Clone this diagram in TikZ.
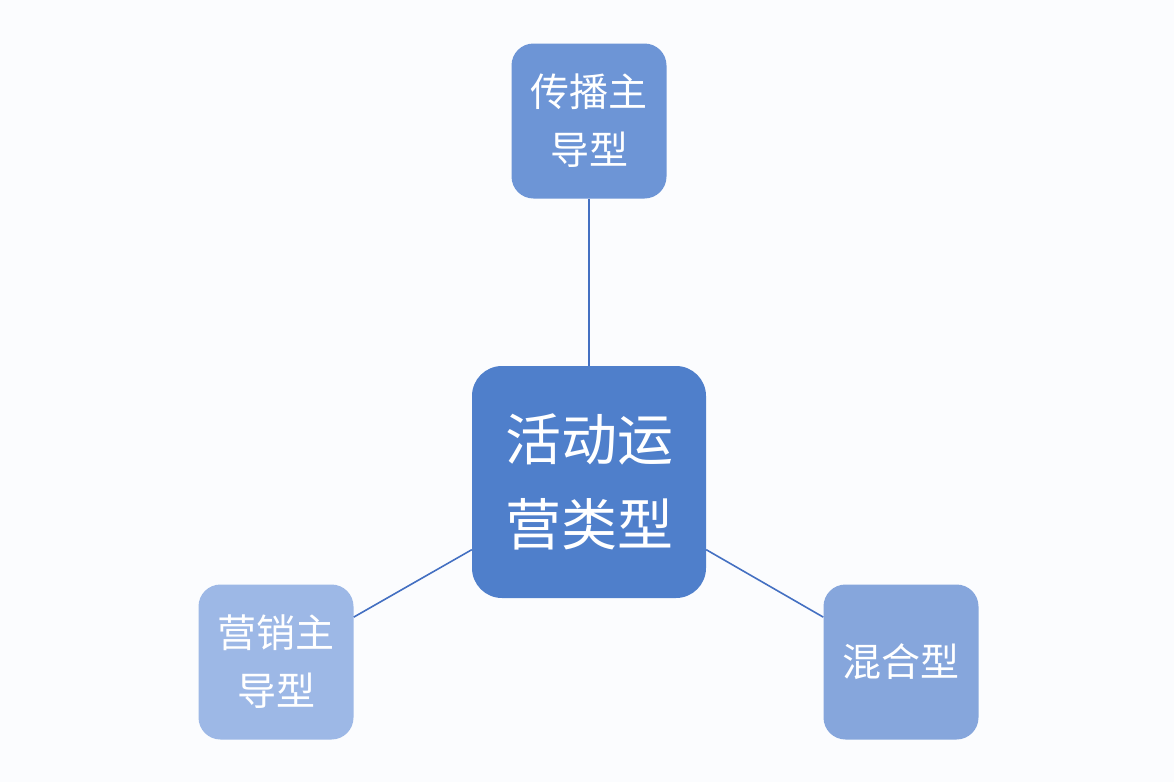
\documentclass[tikz,border=0pt]{standalone}
\usepackage{fontspec}
\newfontfamily\cjk{Noto Sans CJK SC}
\definecolor{bg}{HTML}{FBFCFE}
\definecolor{cmain}{HTML}{4F7FCB}
\definecolor{ctop}{HTML}{6D95D6}
\definecolor{cleft}{HTML}{9DB8E6}
\definecolor{cright}{HTML}{86A6DC}
\definecolor{cline}{HTML}{4470C2}
\tikzset{
  box/.style={rounded corners=22pt, inner sep=0pt, minimum width=155pt, minimum height=155pt, align=center, text=white, font=\cjk\fontsize{39}{58}\selectfont},
  mainbox/.style={box, rounded corners=30pt, minimum width=234pt, minimum height=232pt, font=\cjk\fontsize{56}{85}\selectfont},
  link/.style={draw=cline, line width=1.6pt}
}
\begin{document}
\begin{tikzpicture}[x=1pt,y=-1pt]
\fill[bg] (0,0) rectangle (1174,782);
\useasboundingbox (0,0) rectangle (1174,782);
\node[mainbox, fill=cmain] (c) at (589,482) {活动运\\营类型};
\node[box, fill=ctop] (t) at (589,121) {传播主\\导型};
\node[box, fill=cleft] (l) at (276,662) {营销主\\导型};
\node[box, fill=cright] (r) at (901,662) {混合型};
\draw[link] (t.south) -- (c.north);
\draw[link] (l.30) -- (c.210);
\draw[link] (r.150) -- (c.-30);
\end{tikzpicture}
\end{document}
